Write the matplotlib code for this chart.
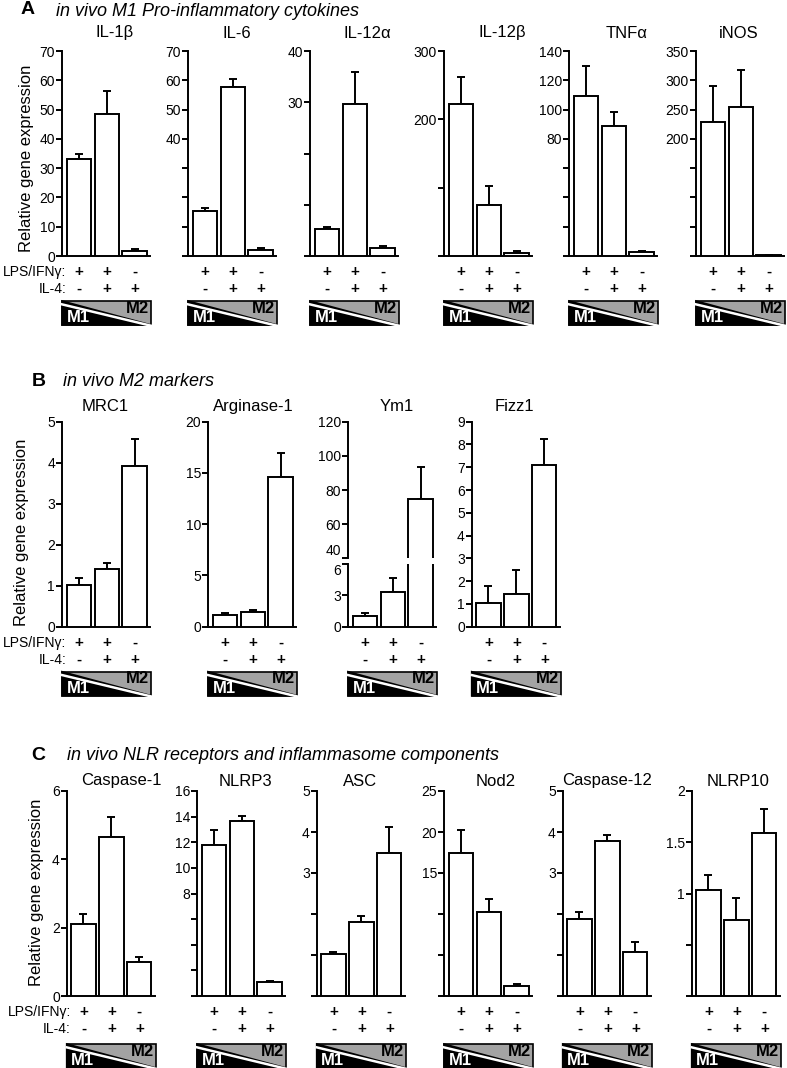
import numpy as np
import matplotlib.pyplot as plt
from matplotlib.patches import Polygon, Rectangle

plt.rcParams['font.family'] = ['Liberation Sans', 'DejaVu Sans']

W, H = 787, 1068

lps = ['+', '+', '-']
il4 = ['-', '+', '+']

# A: in vivo M1 pro-inflammatory cytokines
genes_a = ['IL-1β', 'IL-6', 'IL-12α', 'IL-12β', 'TNFα', 'iNOS']
means_a = [[33, 48.5, 1.8], [15.3, 57.8, 2.0], [5.2, 29.6, 1.6],
           [223, 74, 4], [109, 88.5, 2.5], [228, 254, 1.2]]
sem_a = [[1.9, 7.9, 0.6], [1.1, 2.8, 0.6], [0.4, 6.3, 0.3],
         [39, 28, 3], [21, 10, 1.1], [62, 64, 0.6]]
ymax_a = [70, 70, 40, 300, 140, 350]
ystep_a = [10, 10, 10, 100, 20, 50]
ylab_a = [[0, 10, 20, 30, 40, 50, 60, 70], [40, 50, 60, 70], [30, 40],
          [200, 300], [80, 100, 120, 140], [200, 250, 300, 350]]

# B: in vivo M2 markers
genes_b = ['MRC1', 'Arginase-1', 'Ym1', 'Fizz1']
means_b = [[1.02, 1.4, 3.93], [1.1, 1.4, 14.6], [1.02, 3.29, 75], [1.02, 1.45, 7.1]]
sem_b = [[0.16, 0.16, 0.65], [0.2, 0.22, 2.3], [0.3, 1.4, 18.6], [0.78, 1.06, 1.15]]
ymax_b = [5, 20, 120, 9]
ystep_b = [1, 5, 20, 1]
ym1_low = [0, 3, 6]
ym1_high = [40, 60, 80, 100, 120]

# C: in vivo NLR receptors and inflammasome components
genes_c = ['Caspase-1', 'NLRP3', 'ASC', 'Nod2', 'Caspase-12', 'NLRP10']
means_c = [[2.1, 4.66, 1.0], [11.8, 13.68, 1.12], [1.02, 1.8, 3.48],
           [17.5, 10.2, 1.26], [1.89, 3.78, 1.08], [1.03, 0.74, 1.59]]
sem_c = [[0.3, 0.58, 0.15], [1.15, 0.4, 0.08], [0.06, 0.14, 0.63],
         [2.8, 1.65, 0.16], [0.17, 0.14, 0.23], [0.15, 0.22, 0.23]]
ymax_c = [6, 16, 5, 25, 5, 2]
ystep_c = [2, 2, 1, 5, 1, 0.5]
ylab_c = [[0, 2, 4, 6], [8, 10, 12, 14, 16], [3, 4, 5], [15, 20, 25], [3, 4, 5], [1, 1.5, 2]]

fig = plt.figure(figsize=(W / 100, H / 100), dpi=100)
LW = 1.4


def px_axes(x, y, w, h):
    return fig.add_axes([x / W, 1 - (y + h) / H, w / W, h / H])


def px_text(x, y, s, **kw):
    fig.text(x / W, 1 - y / H, s, **kw)


def style(ax, ticks, labeled, bottom=True):
    for s in ['top', 'right']:
        ax.spines[s].set_visible(False)
    ax.spines['left'].set_linewidth(LW)
    ax.spines['bottom'].set_linewidth(LW)
    if not bottom:
        ax.spines['bottom'].set_visible(False)
    ax.set_xticks([])
    ax.set_yticks(ticks)
    ax.set_yticklabels(['{:g}'.format(t) if any(np.isclose(t, l) for l in labeled) else '' for t in ticks])
    ax.tick_params(axis='y', direction='out', length=4, width=LW, pad=1, labelsize=10)
    ax.set_xlim(-0.6, 2.55)


def bars(ax, means, sems):
    x = np.arange(3)
    ax.bar(x, means, width=0.87, color='white', edgecolor='black', linewidth=LW, zorder=3)
    ax.errorbar(x, means, yerr=[np.zeros(3), sems], fmt='none', ecolor='black',
                elinewidth=LW, capsize=2.8, capthick=LW, zorder=2)


def below(ax, first):
    for i in range(3):
        ax.annotate(lps[i], xy=(i, 0), xycoords=('data', 'axes fraction'), xytext=(0, -16),
                    textcoords='offset pixels', ha='center', va='center', fontsize=11, weight='bold')
        ax.annotate(il4[i], xy=(i, 0), xycoords=('data', 'axes fraction'), xytext=(0, -33),
                    textcoords='offset pixels', ha='center', va='center', fontsize=11, weight='bold')
    if first:
        ax.annotate('LPS/IFNγ:', xy=(0, 0), xycoords='axes fraction', xytext=(4, -16),
                    textcoords='offset pixels', ha='right', va='center', fontsize=10)
        ax.annotate('IL-4:', xy=(0, 0), xycoords='axes fraction', xytext=(4, -33),
                    textcoords='offset pixels', ha='right', va='center', fontsize=10)


def m1m2(x0, y0, w=89, h=24):
    bx = px_axes(x0, y0, w, h)
    bx.set_xlim(0, 1)
    bx.set_ylim(0, 1)
    bx.axis('off')
    bx.add_patch(Rectangle((0, 0), 1, 1, facecolor='#a3a3a3', edgecolor='black', lw=1.2, clip_on=False))
    bx.add_patch(Polygon([(0, 0), (0, 1), (1, 0)], closed=True, facecolor='black', edgecolor='black',
                         lw=1.2, clip_on=False))
    bx.plot([0, 1], [0.86, -0.03], color='white', lw=1.8, clip_on=False)
    bx.text(0.05, -0.02, 'M1', color='white', weight='bold', fontsize=12, ha='left', va='bottom')
    bx.text(0.98, 1.02, 'M2', color='black', weight='bold', fontsize=12, ha='right', va='top')


def title(ax, s, fx, dy):
    ax.annotate(s, xy=(fx, 1), xycoords='axes fraction', xytext=(0, dy), textcoords='offset pixels',
                ha='center', va='center', fontsize=12)


AX_W, AX_H = 88, 205

# panel A
left_a = [62, 188, 310, 444, 569, 696]
tx_a = [0.6, 0.56, 0.65, 0.66, 0.65, 0.49]
top_a = 51
for k in range(6):
    ax = px_axes(left_a[k], top_a, AX_W, AX_H)
    bars(ax, means_a[k], sem_a[k])
    ax.set_ylim(0, ymax_a[k])
    style(ax, np.arange(0, ymax_a[k] + ystep_a[k] / 2, ystep_a[k]), ylab_a[k])
    title(ax, genes_a[k], tx_a[k], 18)
    below(ax, k == 0)
    m1m2(left_a[k], top_a + AX_H + 45)

px_text(21, 10, 'A', fontsize=14, weight='bold', ha='left', va='center')
px_text(56, 11, 'in vivo M1 Pro-inflammatory cytokines', fontsize=13, style='italic', ha='left', va='center')
px_text(27, 158, 'Relative gene expression', fontsize=12, rotation=90, ha='center', va='center')

# panel B
left_b = [62, 208, 348, 471.7]
tx_b = [0.49, 0.51, 0.56, 0.48]
top_b = 421.7
for k in range(4):
    if genes_b[k] == 'Ym1':
        up = px_axes(left_b[k], top_b, AX_W, 136.6)
        bars(up, means_b[k], sem_b[k])
        up.set_ylim(40, 120)
        style(up, ym1_high, ym1_high, bottom=False)
        up.get_yticklabels()[0].set_va('bottom')
        title(up, genes_b[k], tx_b[k], 15)
        lo = px_axes(left_b[k], 564, AX_W, 62.7)
        bars(lo, means_b[k], sem_b[k])
        lo.set_ylim(0, 6)
        style(lo, ym1_low, ym1_low)
        lo.get_yticklabels()[-1].set_va('top')
        below(lo, False)
    else:
        ax = px_axes(left_b[k], top_b, AX_W, AX_H)
        bars(ax, means_b[k], sem_b[k])
        ax.set_ylim(0, ymax_b[k])
        t = np.arange(0, ymax_b[k] + ystep_b[k] / 2, ystep_b[k])
        style(ax, t, t)
        title(ax, genes_b[k], tx_b[k], 15)
        below(ax, k == 0)
    m1m2(left_b[k], top_b + AX_H + 45)

px_text(32, 382, 'B', fontsize=14, weight='bold', ha='left', va='center')
px_text(63, 382, 'in vivo M2 markers', fontsize=13, style='italic', ha='left', va='center')
px_text(22, 532, 'Relative gene expression', fontsize=12, rotation=90, ha='center', va='center')

# panel C
left_c = [66.7, 197, 316.7, 444, 562.7, 691.7]
tx_c = [0.62, 0.55, 0.49, 0.59, 0.5, 0.53]
top_c = 791
for k in range(6):
    ax = px_axes(left_c[k], top_c, AX_W, AX_H)
    bars(ax, means_c[k], sem_c[k])
    ax.set_ylim(0, ymax_c[k])
    style(ax, np.arange(0, ymax_c[k] + ystep_c[k] / 2, ystep_c[k]), ylab_c[k])
    title(ax, genes_c[k], tx_c[k], 10)
    below(ax, k == 0)
    m1m2(left_c[k], top_c + AX_H + 48)

px_text(31, 756, 'C', fontsize=14, weight='bold', ha='left', va='center')
px_text(67, 756, 'in vivo NLR receptors and inflammasome components', fontsize=13, style='italic',
        ha='left', va='center')
px_text(37, 892, 'Relative gene expression', fontsize=12, rotation=90, ha='center', va='center')

fig.savefig('out.png', dpi=100)
